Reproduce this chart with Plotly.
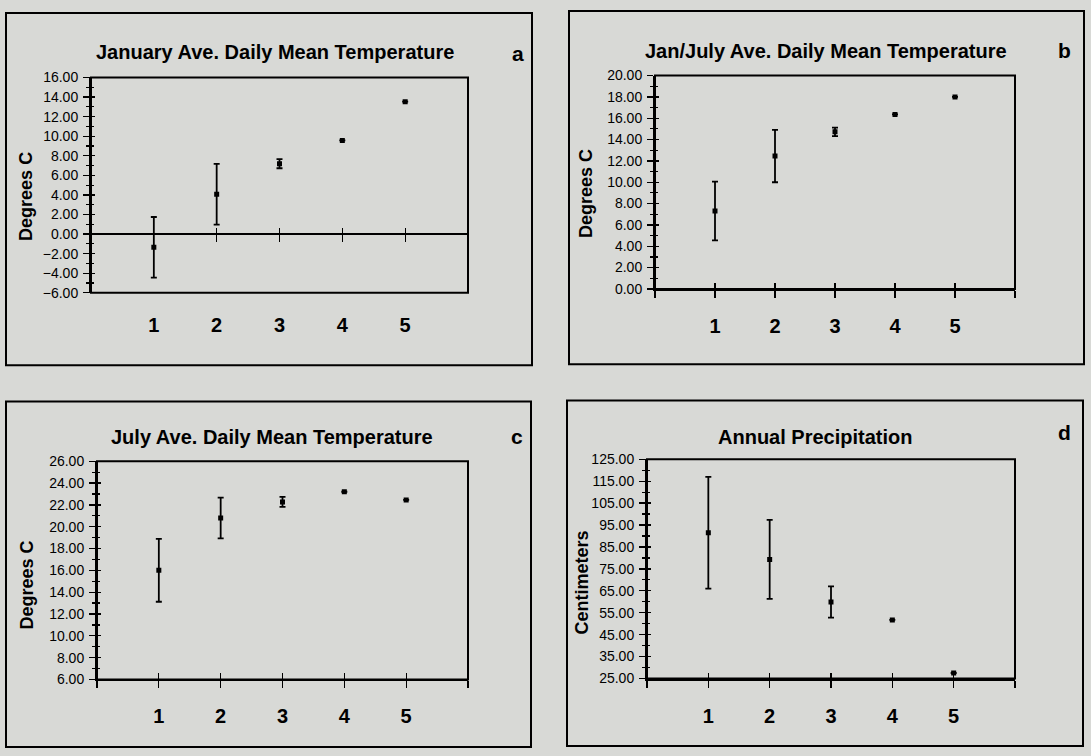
import plotly.graph_objects as go

# ---------------- data ----------------
categories = [1, 2, 3, 4, 5]
x_tick_vals = [0, 1, 2, 3, 4, 5, 6]
x_tick_text = ["", "1", "2", "3", "4", "5", ""]

jan_mean = [-1.35, 4.07, 7.20, 9.57, 13.53]
jan_err = [3.10, 3.10, 0.47, 0.0, 0.0]

janjul_mean = [7.30, 12.45, 14.72, 16.36, 18.00]
janjul_err = [2.75, 2.45, 0.40, 0.0, 0.0]

jul_mean = [16.00, 20.80, 22.27, 23.20, 22.45]
jul_err = [2.88, 1.87, 0.46, 0.0, 0.0]

precip_mean = [91.5, 79.3, 59.9, 51.7, 27.5]
precip_err = [25.5, 18.0, 7.1, 0.0, 0.0]

titles = ["January Ave. Daily Mean Temperature",
          "Jan/July Ave. Daily Mean Temperature",
          "July Ave. Daily Mean Temperature",
          "Annual Precipitation"]
letters = ["a", "b", "c", "d"]
y_titles = ["Degrees C", "Degrees C", "Degrees C", "Centimeters"]
y_ranges = [(-6, 16), (0, 20), (6, 26), (25, 125)]
y_dticks = [2, 2, 2, 10]
series_means = [jan_mean, janjul_mean, jul_mean, precip_mean]
series_errs = [jan_err, janjul_err, jul_err, precip_err]

# ---------------- layout geometry (pixels) ----------------
W, H = 1091, 756
plots = [(91, 468, 71, 291), (655, 1015, 69, 287), (97, 468, 463, 686), (647, 1015, 461, 685)]
boxes = [(6, 532, 5, 365), (569, 1084, 3, 364), (6, 531, 402, 755), (567, 1083, 401, 754)]
title_pos = [(275, 45), (826, 44), (272, 438), (815, 438)]
letter_pos = [(518, 46), (1064, 43), (517, 438), (1064, 434)]
ytitle_pos = [(26, 193), (586, 190), (27, 590), (582, 587)]

BG = "#d8d9d6"
FONT = "Arial, 'Liberation Sans', sans-serif"


def fx(px):
    return px / W


def fy(py):
    return 1 - py / H


fig = go.Figure()
layout = dict(width=W, height=H, margin=dict(l=0, r=0, t=0, b=0),
              paper_bgcolor=BG, plot_bgcolor=BG, showlegend=False,
              font=dict(family=FONT, color="black"))
shapes = []
annotations = []

for i in range(4):
    k = i + 1
    xs = "" if k == 1 else str(k)
    xname, yname = "xaxis" + xs, "yaxis" + xs
    xref, yref = "x" + xs, "y" + xs
    l, r, t, b = plots[i]
    xdom = [fx(l), fx(r)]
    ydom = [fy(b), fy(t)]
    y0, y1 = y_ranges[i]
    dt = y_dticks[i]

    # position of the category axis (panel a crosses at zero)
    if i == 0:
        axis_pos = ydom[0] + (0 - y0) / (y1 - y0) * (ydom[1] - ydom[0])
    else:
        axis_pos = ydom[0]

    xa = dict(domain=xdom, range=[0, 6], tickvals=x_tick_vals, ticktext=x_tick_text,
              ticks="outside", ticklen=7, tickwidth=1.3, tickcolor="black",
              showline=True, linecolor="black", linewidth=2,
              showgrid=False, zeroline=False, fixedrange=True,
              tickfont=dict(size=20, family=FONT, weight="bold"),
              ticklabelstandoff=11)
    if i == 0:
        xa.update(anchor="free", position=axis_pos, showticklabels=False)
    else:
        xa.update(anchor=yref, showticklabels=True)
    layout[xname] = xa

    layout[yname] = dict(domain=ydom, range=[y0, y1], dtick=dt, tick0=y0, tickformat=".2f",
                         ticks="outside", ticklen=6, tickwidth=1.3, tickcolor="black",
                         minor=dict(ticks="outside", ticklen=3, dtick=dt / 2, tickcolor="black", tickwidth=1.2),
                         showline=True, linecolor="black", linewidth=2,
                         showgrid=False, zeroline=False, anchor=xref, fixedrange=True,
                         tickfont=dict(size=14, family=FONT), ticklabelstandoff=2)

    # overlay axes to make ticks cross the axis lines
    ox = "x" + str(k + 4)
    oy = "y" + str(k + 4)
    layout["xaxis" + str(k + 4)] = dict(overlaying=xref, side="top", anchor="free", position=axis_pos,
                                        range=[0, 6], tickvals=categories, ticks="outside", ticklen=6,
                                        tickwidth=1.3, tickcolor="black", showticklabels=False,
                                        showline=False, showgrid=False, zeroline=False, fixedrange=True)
    layout["yaxis" + str(k + 4)] = dict(overlaying=yref, side="left", anchor=xref, range=[y0, y1],
                                        dtick=dt, tick0=y0, ticks="inside", ticklen=4, tickwidth=1.3,
                                        tickcolor="black",
                                        minor=dict(ticks="inside", ticklen=3, dtick=dt / 2, tickcolor="black", tickwidth=1.2),
                                        showticklabels=False, showline=False, showgrid=False,
                                        zeroline=False, fixedrange=True)
    fig.add_trace(go.Scatter(x=[None], y=[None], xaxis=ox, yaxis=yref, hoverinfo="skip", showlegend=False))
    fig.add_trace(go.Scatter(x=[None], y=[None], xaxis=xref, yaxis=oy, hoverinfo="skip", showlegend=False))

    # plot-area frame and outer box
    shapes.append(dict(type="rect", xref="paper", yref="paper", x0=xdom[0], x1=xdom[1],
                       y0=ydom[0], y1=ydom[1], line=dict(color="black", width=2), layer="above"))
    bl, br, bt, bb = boxes[i]
    shapes.append(dict(type="rect", xref="paper", yref="paper", x0=fx(bl), x1=fx(br),
                       y0=fy(bb), y1=fy(bt), line=dict(color="black", width=2)))

    # data
    fig.add_trace(go.Scatter(x=categories, y=series_means[i], mode="markers", xaxis=xref, yaxis=yref,
                             marker=dict(symbol="square", size=5, color="black"),
                             error_y=dict(type="data", array=series_errs[i], visible=True,
                                          color="black", thickness=1.8, width=3),
                             showlegend=False))

    # texts
    tx, ty = title_pos[i]
    annotations.append(dict(text=titles[i], x=fx(tx), y=fy(ty), xref="paper", yref="paper",
                            showarrow=False, xanchor="center", yanchor="middle",
                            font=dict(size=20, family=FONT, weight="bold", color="black")))
    lx, ly = letter_pos[i]
    annotations.append(dict(text=letters[i], x=fx(lx), y=fy(ly), xref="paper", yref="paper",
                            showarrow=False, xanchor="center", yanchor="middle",
                            font=dict(size=21, family=FONT, weight="bold", color="black")))
    ax_, ay_ = ytitle_pos[i]
    annotations.append(dict(text=y_titles[i], x=fx(ax_), y=fy(ay_), xref="paper", yref="paper",
                            showarrow=False, xanchor="center", yanchor="middle", textangle=-90,
                            font=dict(size=18, family=FONT, weight="bold", color="black")))

# label axis for panel a (labels sit below the plot frame)
layout["xaxis9"] = dict(overlaying="x", anchor="y", side="bottom", range=[0, 6],
                        tickvals=x_tick_vals, ticktext=x_tick_text, ticks="", showline=False,
                        showgrid=False, zeroline=False, fixedrange=True,
                        tickfont=dict(size=20, family=FONT, weight="bold"), ticklabelstandoff=18)
fig.add_trace(go.Scatter(x=[None], y=[None], xaxis="x9", yaxis="y", hoverinfo="skip", showlegend=False))

layout["shapes"] = shapes
layout["annotations"] = annotations
layout["hovermode"] = False
fig.update_layout(**layout)
fig.write_html("out.html",
               config={"displayModeBar": False, "staticPlot": True},
               post_script="document.body.style.margin='0px';document.body.style.overflow='hidden';")
